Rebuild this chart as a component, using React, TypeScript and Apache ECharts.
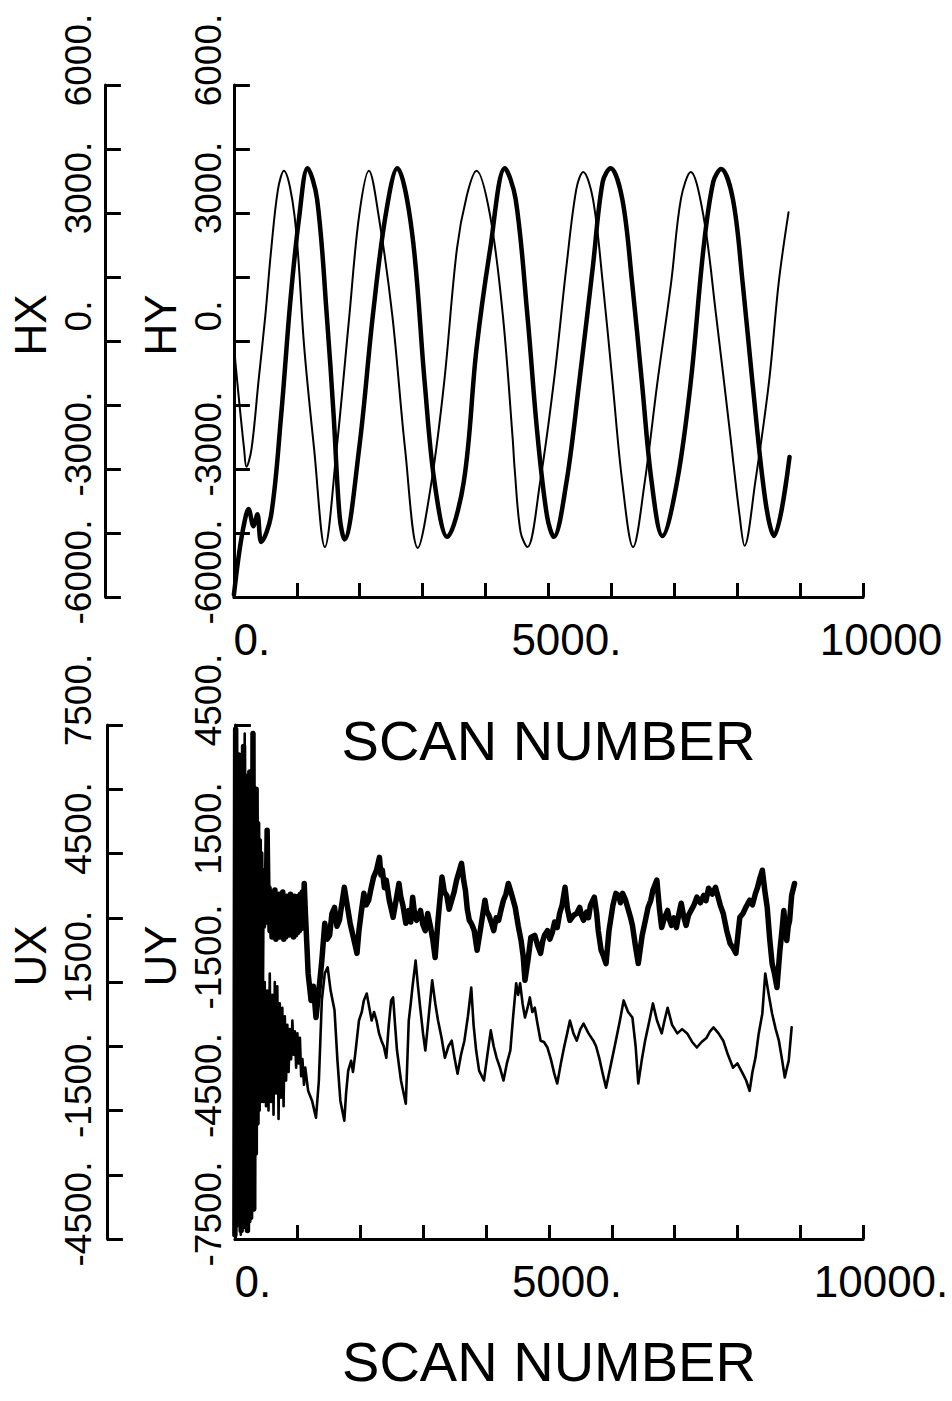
import React, { useEffect, useRef } from 'react';
import * as echarts from 'echarts';

const FONT = "'Liberation Sans', Arial, sans-serif";

// x axis
const X_LABEL_VALUES = [0, 5000, 10000];
const TOP_X_LABELS = ['0.', '5000.', '10000'];
const BOTTOM_X_LABELS = ['0.', '5000.', '10000.'];

// y axes tick labels
const H_LABEL_VALUES = [-6000, -3000, 0, 3000, 6000];
const HX_LABELS = ['-6000.', '-3000.', '0.', '3000.', '6000.'];
const HY_LABELS = ['-6000.', '-3000.', '0.', '3000.', '6000.'];
const UX_LABEL_VALUES = [-4500, -1500, 1500, 4500, 7500];
const UX_LABELS = ['-4500.', '-1500.', '1500.', '4500.', '7500.'];
const UY_LABEL_VALUES = [-7500, -4500, -1500, 1500, 4500];
const UY_LABELS = ['-7500.', '-4500.', '-1500.', '1500.', '4500.'];

// top panel series [scan, value]
const HX_DATA = [
  [0, -50], [30, -600], [110, -1800], [160, -2500], [200, -2950], [280, -2530], [390, -960], [500, 600],
  [590, 2100], [700, 3550], [793, 3990],
  [964, 2930], [1120, -190], [1275, -2530], [1446, -4830],
  [1633, -2530], [1835, 590], [1990, 2930], [2146, 3990],
  [2301, 2930], [2519, 590], [2721, -2530], [2923, -4850],
  [3141, -3300], [3343, -960], [3545, 2160], [3701, 3400], [3856, 3990],
  [4074, 2930], [4276, 590], [4432, -2300], [4463, -3000], [4557, -4480], [4666, -4830],
  [4868, -3300], [5085, -960], [5287, 1760], [5443, 3560], [5552, 3960],
  [5707, 3330], [5862, 1380], [6018, -960], [6173, -3300], [6345, -4830],
  [6531, -3300], [6733, -960], [6951, 1380], [7106, 3330], [7262, 3960],
  [7464, 2930], [7666, 590], [7884, -2130], [8039, -4100], [8117, -4800],
  [8288, -3300], [8506, -960], [8661, 1380], [8817, 3020],
];

const HY_DATA = [
  [0, -5950], [80, -5000], [160, -4300], [233, -3940], [311, -4340], [373, -4060], [435, -4710],
  [590, -4100], [750, -1760], [900, 980], [1040, 2930], [1170, 4050],
  [1322, 3330], [1477, 590], [1586, -1760], [1680, -4100], [1757, -4650],
  [1990, -2530], [2208, 590], [2410, 2930], [2597, 4050],
  [2830, 2560], [3032, -960], [3188, -3300], [3390, -4590],
  [3654, -3300], [3856, -190], [4074, 2160], [4307, 4050],
  [4478, 3330], [4666, 590], [4821, -2130], [4977, -4100], [5085, -4590],
  [5287, -3300], [5490, -960], [5707, 1760], [5862, 3730], [5987, 4050],
  [6173, 3330], [6329, 1380], [6485, -960], [6640, -3300], [6811, -4570],
  [7044, -3300], [7262, -960], [7464, 2160], [7620, 3730], [7744, 4030],
  [7931, 3330], [8086, 1380], [8242, -960], [8444, -3700], [8584, -4570],
  [8832, -2720],
];

// bottom panel series [scan, value]
const UY_DATA = [
  [0, -7400], [12, 4400], [25, -6800], [38, 3200], [50, -7000], [62, 3800], [75, -6500], [88, 3300],
  [100, -7300], [112, 3000], [125, -6600], [138, 4000], [150, -7200], [162, 3100], [175, -6400],
  [188, 3300], [200, -7300], [212, 2900], [225, -6500], [238, 3400], [250, -7000], [262, 3100],
  [275, -6300], [288, 4300], [300, -6800], [312, 2800], [325, -5500], [338, 3000], [350, -4800],
  [362, 2200], [375, -3500], [388, 1800], [400, -2500], [412, 1500], [425, -1500],
  [435, 1110], [455, -200], [482, 410], [498, -100], [513, 2040], [528, 300], [544, 700],
  [560, -300], [575, 600], [591, -450], [606, 500], [622, -350], [637, 650], [653, -500], [669, 400],
  [684, -400], [700, 550], [715, -450], [731, 450], [746, -350], [762, 600], [778, -500], [793, 350],
  [809, -450], [824, 500], [840, -350], [855, 450], [871, -400], [886, 550], [902, -300], [917, 400],
  [933, -450], [948, 500], [964, -400], [980, 450], [995, -350], [1011, 500], [1026, -300],
  [1042, 550], [1057, -250], [1073, 600], [1089, -100], [1104, 800], [1120, 200],
  [1166, -1300], [1213, -1930], [1250, -1600], [1291, -2330],
  [1337, -1700], [1384, -1000], [1431, -130], [1470, -500], [1508, -410], [1545, 100], [1586, 240], [1625, -200], [1664, -60], [1700, 300], [1742, 710],
  [1788, 290], [1835, -130], [1897, -530], [1944, -830], [1975, -300], [2006, 60], [2053, 570], [2090, 300], [2130, 410], [2170, 700],
  [2208, 950], [2255, 1110], [2301, 1410], [2325, 1000], [2348, 1110], [2380, 700], [2410, 880], [2457, 410], [2490, 200], [2519, 10],
  [2566, 410], [2612, 800], [2640, 500], [2675, 290], [2721, -130], [2768, 170], [2800, -100], [2830, 480], [2860, 100], [2892, -60],
  [2955, 170], [2990, -150], [3032, -300], [3070, 100], [3110, -180], [3150, -500], [3188, -930], [3234, -60], [3297, 950], [3335, 600], [3374, 520],
  [3410, 200], [3452, 410], [3490, 600], [3530, 880], [3608, 1270], [3640, 900], [3670, 640], [3700, 200], [3732, -60], [3770, -150], [3810, -300], [3856, -760],
  [3919, -180], [3981, 410], [4010, 150], [4043, 60], [4080, -100], [4121, -300], [4160, 0], [4199, -60], [4240, 200], [4276, 410], [4315, 550], [4354, 800],
  [4401, 570], [4463, 240], [4510, -180], [4556, -530], [4590, -900], [4618, -1460], [4665, -1000], [4712, -460],
  [4774, -410], [4821, -650], [4867, -830], [4900, -550], [4929, -410], [4976, -300], [5015, -500], [5054, -340], [5090, -100], [5132, -230],
  [5170, 100], [5209, 290], [5256, 710], [5295, 200], [5334, -60], [5396, 60], [5443, 100], [5489, 240], [5520, 50], [5551, -60],
  [5598, 130], [5630, 0], [5660, 290], [5722, 480], [5760, 100], [5785, -300], [5831, -760], [5870, -900], [5909, -1070], [5956, -300],
  [6018, 290], [6065, 570], [6111, 520], [6140, 350], [6173, 570], [6220, 410], [6267, 170], [6300, 0], [6329, -180],
  [6376, -650], [6422, -1070], [6484, -410], [6530, -100], [6578, 240], [6620, 400], [6655, 640], [6718, 880], [6760, 200], [6795, -230],
  [6840, 0], [6889, 170], [6920, -50], [6951, -180], [6990, 0], [7029, -230], [7070, 100], [7106, 340], [7150, 0], [7184, -180], [7220, 50], [7262, 170], [7310, 300], [7355, 480],
  [7410, 350], [7464, 520], [7500, 400], [7542, 690], [7600, 550], [7651, 710], [7690, 500], [7728, 290], [7775, 100], [7830, -300], [7884, -600], [7930, -700], [7977, -830],
  [8039, 10], [8090, 100], [8133, 240], [8195, 410], [8240, 300], [8288, 570], [8320, 700], [8350, 880], [8397, 1110], [8440, 600], [8475, 240], [8515, -500],
  [8553, -1070], [8590, -1300], [8630, -1630], [8677, -760], [8710, -300], [8739, 170], [8760, -200], [8786, -530], [8810, -200], [8832, -60], [8864, 520],
  [8910, 800],
];

const UX_DATA = [
  [5, 6000], [18, -3800], [30, 7400], [43, -4200], [56, 5800], [68, -3500], [81, 6500], [94, -4400],
  [106, 6100], [119, -3300], [131, 5900], [144, -4000], [156, 7300], [169, -3600], [181, 6000],
  [194, -4300], [206, 5700], [219, -3300], [231, 6200], [244, -4100], [256, 5500], [269, -3000],
  [281, 5200], [294, -2600], [306, 4800], [319, -2200], [331, 4000], [344, -2000], [356, 3300],
  [369, -1800], [381, 2800], [394, -1500], [406, 2500], [419, -1300], [430, 2000],
  [435, 1070], [455, -1300], [475, 1500], [495, -1400], [515, 1300], [535, -1500], [555, 1700],
  [575, -1300], [595, 1200], [615, -1600], [635, 1500], [655, -1100], [675, 1400], [695, -1700],
  [715, 1000], [735, -1200], [755, 900], [775, -1400], [795, 700], [815, -800], [835, 500],
  [855, -600], [875, 400], [895, -300], [915, 600], [935, -200], [955, 350], [975, -500], [995, 300],
  [1015, -400], [1035, 200], [1055, -700], [1075, -300], [1100, -900], [1120, -500],
  [1166, -1040], [1228, -1270], [1291, -1670], [1337, -800],
  [1384, 1070], [1431, 1700], [1477, 1840], [1524, 1300], [1586, 840], [1633, -340], [1679, -1270],
  [1742, -1740], [1770, -1100], [1804, -570], [1850, -340], [1880, -600], [1913, -220], [1975, 600], [2020, 800], [2053, 1070], [2099, 1230],
  [2140, 900], [2177, 600], [2215, 800], [2255, 600], [2295, 300], [2333, 130], [2370, 0], [2410, -270], [2450, 500], [2488, 1070], [2519, 1140], [2550, 500], [2581, -100],
  [2644, -800], [2721, -1340], [2768, 600], [2800, 1000], [2830, 1420], [2877, 2000], [2915, 1400], [2955, 840], [2995, 300], [3032, -100],
  [3079, 600], [3141, 1540], [3190, 1000], [3234, 600], [3290, 200], [3343, -270], [3400, 0], [3452, 130], [3500, -300], [3545, -640], [3600, -200], [3654, 130],
  [3710, 700], [3763, 1370], [3800, 500], [3841, -100], [3888, -570], [3965, -800], [4020, -200], [4074, 370], [4120, 0], [4167, -270], [4220, -500], [4276, -800],
  [4330, -400], [4385, -100], [4430, 700], [4478, 1470], [4510, 1200], [4541, 1470], [4580, 1000], [4618, 670], [4660, 900], [4696, 1140], [4735, 800], [4774, 900], [4820, 500], [4867, 130],
  [4920, 100], [4976, -30], [5030, -300], [5085, -640], [5132, -870], [5190, -400], [5240, -30], [5290, 300], [5334, 600], [5390, 300], [5443, 130], [5500, 400], [5551, 530],
  [5630, 300], [5707, 130], [5750, 0], [5800, -270], [5850, -600], [5909, -970], [5990, -400], [6065, 130], [6130, 600], [6189, 1070], [6260, 800], [6329, 670], [6380, 0], [6422, -870],
  [6480, -300], [6531, 130], [6600, 600], [6655, 1000], [6720, 600], [6795, 300], [6840, 600], [6889, 900], [6960, 500], [7044, 300], [7120, 400], [7200, 300], [7280, 100], [7355, -30],
  [7430, 100], [7511, 200], [7565, 350], [7620, 440], [7700, 300], [7775, 130], [7850, -200], [7931, -500], [8000, -400], [8086, -640], [8140, -800], [8195, -1040], [8240, -600], [8288, -270],
  [8340, 300], [8397, 760], [8444, 1700], [8500, 1200], [8553, 760], [8610, 400], [8661, 130], [8710, -300], [8755, -730], [8790, -500], [8817, -340], [8864, 440],
];

const labelFormatter = (values: number[], labels: string[]) => (v: number) => {
  for (let i = 0; i < values.length; i++) {
    if (Math.abs(values[i] - v) < 1e-6) return labels[i];
  }
  return '';
};

const yAxisCfg = (
  gridIndex: number, min: number, max: number, offset: number, name: string,
  values: number[], labels: string[], labelMargin: number, nameShift: number,
) => ({
  type: 'value',
  gridIndex,
  position: 'left',
  offset,
  min,
  max,
  interval: 1500,
  name,
  nameLocation: 'middle',
  nameRotate: 90,
  nameGap: 38,
  nameTextStyle: { fontFamily: FONT, fontSize: 44, color: '#000', padding: [0, 0, 0, nameShift * 2] },
  axisLine: { show: true, onZero: false, lineStyle: { color: '#000', width: 3 } },
  axisTick: { show: true, inside: true, length: 16, lineStyle: { color: '#000', width: 3 } },
  axisLabel: {
    show: true, rotate: 90, margin: labelMargin, fontFamily: FONT, fontSize: 37, color: '#000',
    padding: [0, 0, 0, 50], formatter: labelFormatter(values, labels),
  },
  splitLine: { show: false },
});

const xAxisCfg = (gridIndex: number, labels: string[], nameGap: number) => ({
  type: 'value',
  gridIndex,
  min: 0,
  max: 10000,
  interval: 1000,
  name: 'SCAN NUMBER',
  nameLocation: 'middle',
  nameGap,
  nameTextStyle: { fontFamily: FONT, fontSize: 56, color: '#000' },
  axisLine: { show: true, onZero: false, lineStyle: { color: '#000', width: 3 } },
  axisTick: { show: true, inside: true, length: 14, lineStyle: { color: '#000', width: 3 } },
  axisLabel: {
    show: true, margin: 20, fontFamily: FONT, fontSize: 44, color: '#000',
    padding: [0, 0, 0, 36], formatter: labelFormatter(X_LABEL_VALUES, labels),
  },
  splitLine: { show: false },
});

const lineSeries = (xAxisIndex: number, yAxisIndex: number, name: string, data: number[][], width: number, smooth: number | boolean) => ({
  type: 'line',
  name,
  xAxisIndex,
  yAxisIndex,
  data,
  showSymbol: false,
  symbol: 'none',
  smooth,
  lineStyle: { color: '#000', width, cap: 'round', join: 'round' },
  emphasis: { disabled: true },
  silent: true,
});

export default function App() {
  const ref = useRef<HTMLDivElement>(null);
  useEffect(() => {
    if (!ref.current) return;
    const chart = echarts.init(ref.current, undefined, { renderer: 'svg' });
    chart.setOption({
      animation: false,
      backgroundColor: '#fff',
      textStyle: { fontFamily: FONT, color: '#000' },
      grid: [
        { left: 220, top: 85, width: 643, height: 512 },
        { left: 221, top: 725, width: 642, height: 514 },
      ],
      xAxis: [xAxisCfg(0, TOP_X_LABELS, 115), xAxisCfg(1, BOTTOM_X_LABELS, 94)],
      yAxis: [
        yAxisCfg(0, -6000, 6000, 0, 'HY', H_LABEL_VALUES, HY_LABELS, 7, 16),
        yAxisCfg(0, -6000, 6000, 129, 'HX', H_LABEL_VALUES, HX_LABELS, 8, 16),
        yAxisCfg(1, -7500, 4500, 0, 'UY', UY_LABEL_VALUES, UY_LABELS, 8, 26),
        yAxisCfg(1, -4500, 7500, 128, 'UX', UX_LABEL_VALUES, UX_LABELS, 10, 26),
      ],
      series: [
        lineSeries(0, 1, 'HX', HX_DATA, 2, 0.35),
        lineSeries(0, 0, 'HY', HY_DATA, 4.5, 0.35),
        lineSeries(1, 3, 'UX', UX_DATA, 2.6, false),
        lineSeries(1, 2, 'UY', UY_DATA, 5.5, false),
      ],
    });
    return () => chart.dispose();
  }, []);
  return (
    <div
      ref={ref}
      style={{ position: 'fixed', left: 0, top: 0, width: 952, height: 1401, background: '#fff' }}
    />
  );
}
